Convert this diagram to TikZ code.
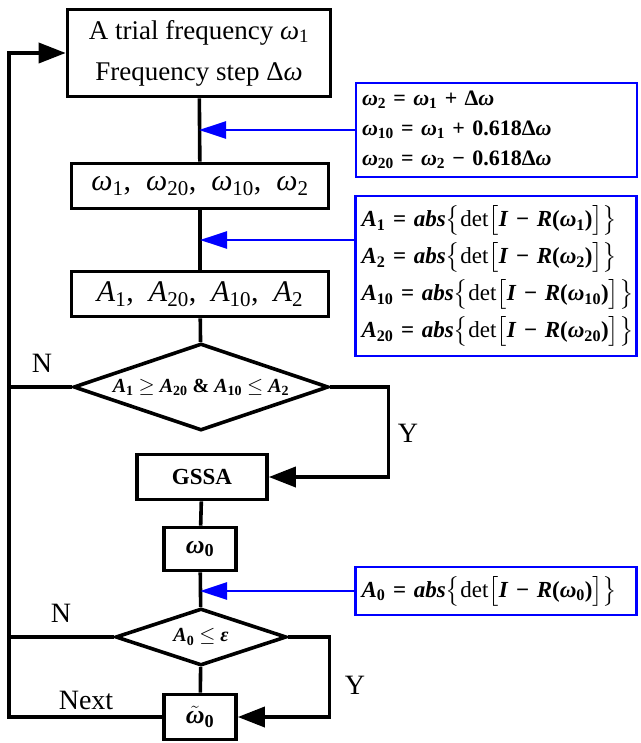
\documentclass[tikz,border=0pt]{standalone}
\usepackage{amsmath}
\usepackage{fontspec}
\setmainfont{Liberation Serif}
\usetikzlibrary{shapes.geometric,arrows.meta}

\newcommand{\wi}[1]{\textit{ω}$_{\text{\upshape #1}}$}
\newcommand{\Ai}[1]{\textit{A}$_{\text{\upshape #1}}$}
\newcommand{\absdet}[2]{\mbox{\Ai{#1}~=~\textit{abs}$\big\{$\mdseries det$\big[$\bfseries\textit{I}~−~\textit{R}(#2)$\big]\big\}$}}

\begin{document}
\begin{tikzpicture}[x=1pt,y=-1pt,
    box/.style={draw, line width=3.6pt, inner sep=0pt, font=\fontsize{30}{34}\selectfont},
    decision/.style={diamond, draw, line width=3.6pt, inner sep=0pt, font=\bfseries\fontsize{20}{22}\selectfont},
    note/.style={draw=blue, line width=2.8pt, inner xsep=6pt, inner ysep=0pt, text width=269pt, align=left},
    flow/.style={line width=3.6pt},
    arr/.style={-{Triangle[length=27pt,width=20pt]}},
    feed/.style={blue, line width=2.8pt, -{Triangle[length=27pt,width=17pt]}},
    lbl/.style={font=\fontsize{28}{30}\selectfont}]
    \useasboundingbox (0,0) rectangle (640,743);
    \node[box, minimum width=263pt, minimum height=87pt, align=center, font=\fontsize{27}{41}\selectfont] (trial) at (199,53) {A trial frequency \wi{1}\\Frequency step Δ\textit{ω}};
    \node[box, minimum width=257pt, minimum height=45pt] (wset) at (200,186) {\wi{1},\ \ \wi{20},\ \ \wi{10},\ \ \wi{2}};
    \node[box, minimum width=257pt, minimum height=45pt] (aset) at (200,294) {\Ai{1},\ \ \Ai{20},\ \ \Ai{10},\ \ \Ai{2}};
    \node[decision, minimum width=255pt, minimum height=87pt, aspect=2.87] (cmp) at (201,387) {\Ai{1} $\geq$ \Ai{20} \& \Ai{10} $\leq$ \Ai{2}};
    \node[box, minimum width=130pt, minimum height=45pt, font=\bfseries\fontsize{23}{25}\selectfont] (gssa) at (202,477) {GSSA};
    \node[box, minimum width=72pt, minimum height=43pt, font=\bfseries\fontsize{26}{28}\selectfont] (wopt) at (200,549) {\wi{0}};
    \node[decision, minimum width=171pt, minimum height=57pt, aspect=2.9] (conv) at (201,637) {\Ai{0} $\leq$ \textit{ε}};
    \node[box, minimum width=72pt, minimum height=45pt, font=\bfseries\fontsize{26}{28}\selectfont] (wbest) at (200,717) {$\tilde{\text{\itshape ω}}_{\text{0}}$};

    \node[note, minimum height=94pt, font=\bfseries\fontsize{22}{30}\selectfont] (eqw) at (496.5,130) {\wi{2} = \wi{1} + Δ\textit{ω}\\\wi{10} = \wi{1} + 0.618Δ\textit{ω}\\\wi{20} = \wi{2} − 0.618Δ\textit{ω}};
    \node[note, minimum height=160pt, font=\bfseries\fontsize{23}{37}\selectfont] (eqA) at (496,276) {\absdet{1}{\wi{1}}\\\absdet{2}{\wi{2}}\\\absdet{10}{\wi{10}}\\\absdet{20}{\wi{20}}};
    \node[note, minimum height=48pt, font=\bfseries\fontsize{23}{26}\selectfont] (eqA0) at (496,591) {\absdet{0}{\wi{0}}};
    \coordinate (feedA) at (200,240);

    \node[lbl] (nA) at (42,363) {N};
    \node[lbl] (yA) at (408,433) {Y};
    \node[lbl] (nB) at (61,613) {N};
    \node[lbl] (yB) at (355,685) {Y};
    \node[lbl] (nxt) at (86,700) {Next};

    \draw[flow] (trial) -- (wset);
    \draw[flow] (wset) -- (aset);
    \draw[flow] (aset) -- (cmp);
    \draw[flow,arr] (cmp.east) -- ++(58,0) |- (gssa.east);
    \draw[flow] (gssa) -- (wopt);
    \draw[flow] (wopt) -- (conv);
    \draw[flow] (conv) -- (wbest);
    \draw[flow,arr] (conv.east) -- ++(41,0) |- (wbest.east);
    \draw[flow,arr] (wbest.west) -- ++(-153,0) coordinate (back) |- (trial.west);
    \draw[flow] (cmp.west) -- (cmp.west -| back);
    \draw[flow] (conv.west) -- (conv.west -| back);
    \draw[feed] (eqw.west) -- (eqw.west -| trial.south);
    \draw[feed] (eqA.west |- feedA) -- (feedA);
    \draw[feed] (eqA0.west) -- (eqA0.west -| wopt.south);
\end{tikzpicture}
\end{document}
